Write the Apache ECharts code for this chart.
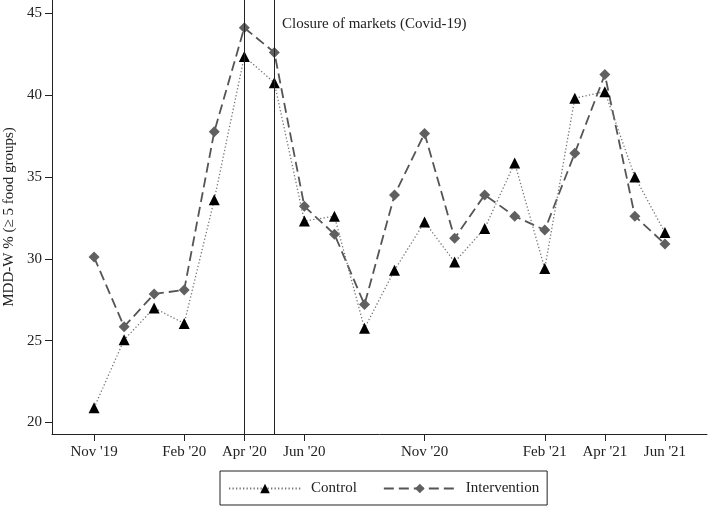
<!DOCTYPE html>
<html>
<head>
<meta charset="utf-8">
<script src="https://cdn.jsdelivr.net/npm/echarts@6/dist/echarts.min.js"></script>
<style>
html,body{margin:0;padding:0;background:#fff;}
#c{width:708px;height:506px;}
</style>
</head>
<body>
<div id="c"></div>
<script>
// Survey rounds (index positions) and tick labels
var tickLabels = ["Nov '19","","","Feb '20","","Apr '20","","Jun '20","","","","Nov '20","","","","Feb '21","","Apr '21","","Jun '21"];
var controlValues = [20.9, 25.05, 27.0, 26.05, 33.6, 42.35, 40.75, 32.3, 32.6, 25.75, 29.3, 32.25, 29.8, 31.85, 35.85, 29.4, 39.8, 40.2, 35.0, 31.6];
var interventionValues = [30.1, 25.85, 27.85, 28.1, 37.75, 44.1, 42.6, 33.2, 31.5, 27.2, 33.9, 37.65, 31.25, 33.9, 32.6, 31.75, 36.45, 41.25, 32.6, 30.9];
var closureRounds = [5, 6];
var yTicks = [20, 25, 30, 35, 40, 45];
var annotation = "Closure of markets (Covid-19)";
var seriesNames = ["Control", "Intervention"];

var labelledIdx = [];
tickLabels.forEach(function (l, i) { if (l) labelledIdx.push(i); });

function pairs(vals) { return vals.map(function (v, i) { return [i, v]; }); }

var font = "'Liberation Serif', 'DejaVu Serif', serif";
var chart = echarts.init(document.getElementById('c'));
chart.setOption({
  animation: false,
  backgroundColor: '#fff',
  textStyle: { fontFamily: font },
  grid: { left: 52, right: 1, top: 0, bottom: 72, containLabel: false, outerBoundsMode: 'none' },
  xAxis: {
    type: 'value', min: -1.4, max: 20.4,
    splitLine: { show: false },
    axisLine: { show: true, onZero: false, lineStyle: { color: '#222', width: 1 } },
    axisTick: { show: true, length: 7, customValues: labelledIdx, lineStyle: { color: '#222' } },
    axisLabel: { show: true, customValues: labelledIdx, margin: 11, fontSize: 15, color: '#222', fontFamily: font,
      formatter: function (v) { return tickLabels[Math.round(v)] || ''; } }
  },
  yAxis: {
    type: 'value', min: 19.3, max: 45.8,
    name: 'MDD-W % (\u2265 5 food groups)', nameLocation: 'middle', nameGap: 34,
    nameTextStyle: { fontSize: 15, color: '#222', fontFamily: font },
    splitLine: { show: false },
    axisLine: { show: true, onZero: false, lineStyle: { color: '#222', width: 1 } },
    axisTick: { show: true, length: 7, customValues: yTicks, lineStyle: { color: '#222' } },
    axisLabel: { show: true, customValues: yTicks, margin: 10, fontSize: 15, color: '#222', fontFamily: font }
  },
  legend: {
    left: 220, top: 471,
    width: 327,
    data: seriesNames,
    itemWidth: 72, itemHeight: 12, itemGap: 26,
    padding: [10, 8, 9, 8],
    borderColor: '#222', borderWidth: 1, borderRadius: 0,
    textStyle: { fontSize: 15, color: '#222', fontFamily: font, padding: [0, 0, 0, 5] }
  },
  series: [
    {
      name: seriesNames[0], type: 'line', data: pairs(controlValues),
      symbol: 'triangle', symbolSize: 11,
      itemStyle: { color: '#000' },
      lineStyle: { color: '#777', width: 1.3, type: [1.3, 2.2] },
      z: 3,
      markLine: {
        silent: true, symbol: 'none',
        label: { show: false },
        lineStyle: { color: '#222', width: 1, type: 'solid' },
        data: closureRounds.map(function (r) { return { xAxis: r }; })
      }
    },
    {
      name: seriesNames[1], type: 'line', data: pairs(interventionValues),
      symbol: 'diamond', symbolSize: 11,
      itemStyle: { color: '#606060' },
      lineStyle: { color: '#555', width: 1.8, type: [10, 5] },
      z: 2
    }
  ],
  graphic: [{
    type: 'text', left: 282, top: 17,
    style: { text: annotation, fontSize: 15, fill: '#222', fontFamily: font }
  }]
});
</script>
</body>
</html>
